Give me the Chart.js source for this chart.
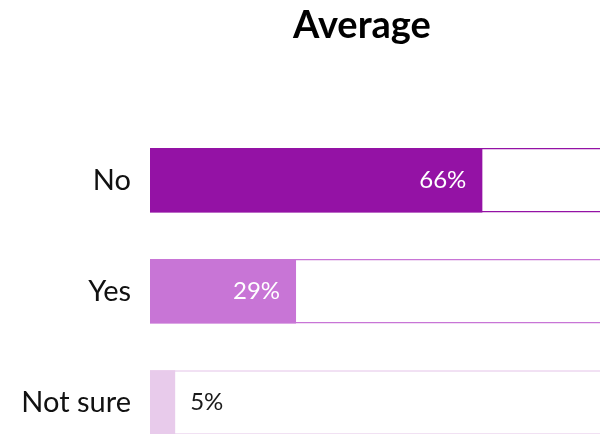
<!DOCTYPE html>
<html>
<head>
<meta charset="utf-8">
<script src="https://cdn.jsdelivr.net/npm/chart.js@4.4.1/dist/chart.umd.min.js"></script>
<style>
  html, body { margin: 0; padding: 0; background: #fff; overflow: hidden; }
  #view { width: 600px; height: 434px; overflow: hidden; position: relative; }
  #myChart { position: absolute; left: 0; top: 0; }
</style>
</head>
<body>
<div id="view"><canvas id="myChart" width="724" height="458"></canvas></div>
<script>
const categories = ['No', 'Yes', 'Not sure'];
const averages = [66, 29, 5];
const fullTrack = [100, 100, 100];
const barColors = ['#9412a5', '#c875d6', '#e8cbeb'];

// valeurs écrites sur les barres
const valueLabels = {
    id: 'valueLabels',
    afterDatasetsDraw(chart) {
        const ctx = chart.ctx;
        const meta = chart.getDatasetMeta(1);
        ctx.save();
        ctx.font = '24px Lato';
        ctx.textBaseline = 'middle';
        meta.data.forEach((bar, i) => {
            const v = averages[i];
            if (v > 10) {
                ctx.fillStyle = '#ffffff';
                ctx.textAlign = 'right';
                ctx.fillText(v + '%', bar.x - 16, bar.y);
            } else {
                ctx.fillStyle = '#1a1a1a';
                ctx.textAlign = 'left';
                ctx.fillText(v + '%', bar.x + 15, bar.y);
            }
        });
        ctx.restore();
    }
};

const ctx = document.getElementById('myChart').getContext('2d');
new Chart(ctx, {
    type: 'bar',
    data: {
        labels: categories,
        datasets: [{
            label: 'track',
            data: fullTrack,
            backgroundColor: '#ffffff',
            borderColor: barColors,
            borderWidth: 1.5,
            borderSkipped: false,
            grouped: false,
            order: 2
        }, {
            label: 'Average',
            data: averages,
            backgroundColor: barColors,
            borderWidth: 0,
            grouped: false,
            order: 1
        }]
    },
    options: {
        indexAxis: 'y',
        responsive: false,
        animation: false,
        barPercentage: 0.58,
        categoryPercentage: 1,
        layout: { padding: { left: 10, right: 10, top: 0, bottom: 0 } },
        plugins: {
            legend: { display: false },
            tooltip: { enabled: false },
            title: {
                display: true,
                text: 'Average',
                color: '#000',
                font: { family: 'Lato', size: 38, weight: 'bold' },
                padding: { top: 3, bottom: 76 }
            }
        },
        scales: {
            x: { display: false, min: 0, max: 112 },
            y: {
                grid: { display: false },
                border: { display: false },
                ticks: {
                    color: '#111',
                    padding: 11,
                    font: { family: 'Lato', size: 29 }
                },
                afterFit(scale) {
                    scale.width = 140;
                    // pas de marge haut/bas pour les libellés
                    scale.paddingTop = 0;
                    scale.paddingBottom = 0;
                }
            }
        }
    },
    plugins: [valueLabels]
});
</script>
</body>
</html>
